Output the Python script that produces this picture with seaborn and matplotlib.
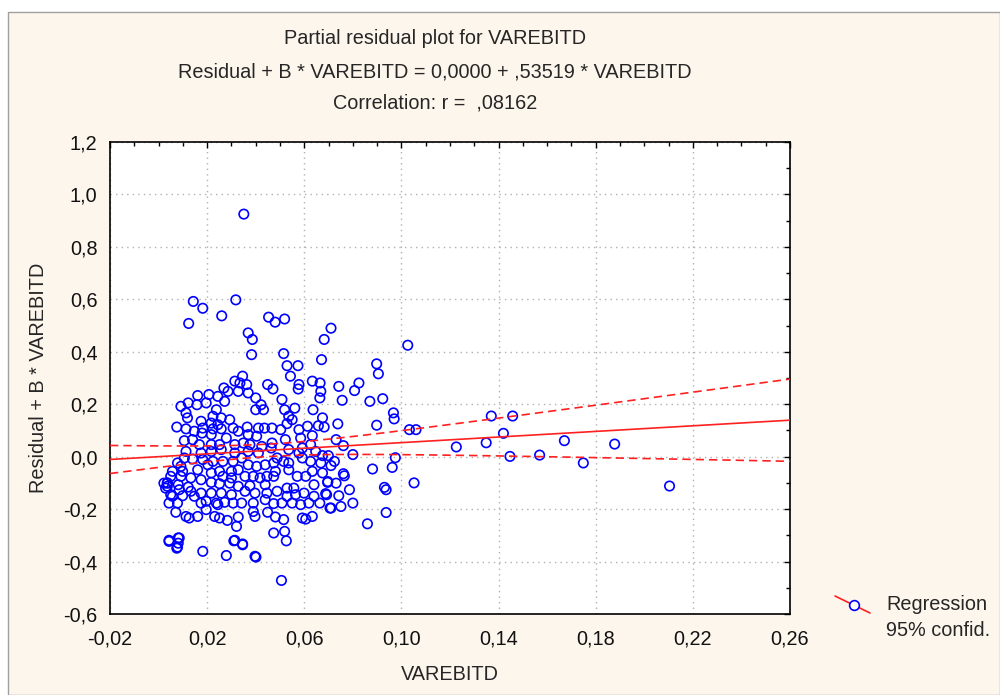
import numpy as np
import pandas as pd
import matplotlib.pyplot as plt
import matplotlib.ticker as mticker
import matplotlib.lines as mlines
import matplotlib.patches as mpatches
import seaborn as sns

# Values (VAREBITD, partial residual)
vare_cluster = [
    0.0369, 0.0386, 0.0682, 0.0710, 0.0383, 0.0515, 0.0529, 0.0574, 0.0671, 0.0346,
    0.0314, 0.0335, 0.0363, 0.0269, 0.0286, 0.0328, 0.0369, 0.0449, 0.0471, 0.0543,
    0.0578, 0.0575, 0.0633, 0.0665, 0.0668, 0.0742, 0.0807, 0.0825, 0.0161, 0.0207,
    0.0244, 0.0272, 0.0196, 0.0158, 0.0122, 0.0092, 0.0238, 0.0400, 0.0422, 0.0432,
    0.0400, 0.0508, 0.0519, 0.0561, 0.0664, 0.0756, 0.0636, 0.0113, 0.0119, 0.0224,
    0.0258, 0.0293, 0.0175, 0.0217, 0.0244, 0.0075, 0.0113, 0.0182, 0.0224, 0.0258,
    0.0307, 0.0365, 0.0436, 0.0467, 0.0503, 0.0536, 0.0550, 0.0529, 0.0675, 0.0658,
    0.0682, 0.0738, 0.0179, 0.0217, 0.0279, 0.0328, 0.0369, 0.0404, 0.0106, 0.0168,
    0.0217, 0.0251, 0.0314, 0.0349, 0.0376, 0.0425, 0.0464, 0.0522, 0.0585, 0.0633,
    0.0626, 0.0592, 0.0761, 0.0113, 0.0175, 0.0217, 0.0258, 0.0314, 0.0369, 0.0411,
    0.0488, 0.0536, 0.0578, 0.0647, 0.0675, 0.0699, 0.0800, 0.0057, 0.0092, 0.0099,
    0.0140, 0.0182, 0.0224, 0.0265, 0.0307, 0.0342, 0.0369, 0.0404, 0.0439, 0.0474,
    0.0536, 0.0592, 0.0626, 0.0668, 0.0710, 0.0036, 0.0036, 0.0081, 0.0122, 0.0133,
    0.0175, 0.0217, 0.0251, 0.0300, 0.0328, 0.0356, 0.0390, 0.0418, 0.0446, 0.0481,
    0.0536, 0.0606, 0.0633, 0.0675, 0.0761, 0.0765, 0.0640, 0.0696, 0.0328, 0.0376,
    0.0439, 0.0085, 0.0217, 0.0251, 0.0293, 0.0529, 0.0557, 0.0057, 0.0099, 0.0133,
    0.0175, 0.0217, 0.0258, 0.0300, 0.0356, 0.0397, 0.0446, 0.0488, 0.0529, 0.0564,
    0.0599, 0.0640, 0.0692, 0.0742, 0.0043, 0.0078, 0.0175, 0.0196, 0.0238, 0.0272,
    0.0307, 0.0342, 0.0390, 0.0439, 0.0474, 0.0508, 0.0550, 0.0585, 0.0619, 0.0664,
    0.0710, 0.0751, 0.0800, 0.0071, 0.0113, 0.0126, 0.0161, 0.0196, 0.0231, 0.0251,
    0.0283, 0.0328, 0.0390, 0.0449, 0.0481, 0.0515, 0.0592, 0.0633, 0.0321, 0.0606,
    0.0043, 0.0081, 0.0081, 0.0075, 0.0182, 0.0279, 0.0314, 0.0346, 0.0401, 0.0474,
    0.0519, 0.0526, 0.0506,
]
resid_cluster = [
    0.472, 0.447, 0.447, 0.490, 0.389, 0.393, 0.347, 0.347, 0.370, 0.307,
    0.288, 0.281, 0.275, 0.262, 0.249, 0.249, 0.243, 0.275, 0.258, 0.307,
    0.275, 0.258, 0.288, 0.281, 0.249, 0.268, 0.252, 0.281, 0.233, 0.237,
    0.230, 0.211, 0.205, 0.198, 0.205, 0.192, 0.179, 0.224, 0.198, 0.179,
    0.179, 0.218, 0.179, 0.185, 0.224, 0.215, 0.179, 0.167, 0.148, 0.154,
    0.148, 0.141, 0.135, 0.128, 0.122, 0.113, 0.106, 0.109, 0.106, 0.106,
    0.109, 0.113, 0.109, 0.109, 0.103, 0.154, 0.141, 0.126, 0.148, 0.118,
    0.113, 0.125, 0.090, 0.084, 0.071, 0.097, 0.084, 0.078, 0.061, 0.046,
    0.046, 0.046, 0.046, 0.052, 0.046, 0.039, 0.033, 0.065, 0.071, 0.080,
    0.046, 0.033, 0.042, 0.020, 0.014, 0.020, 0.027, 0.014, 0.020, 0.014,
    -0.005, 0.027, 0.014, 0.020, 0.004, 0.004, 0.008, -0.056, -0.037, -0.056,
    -0.009, -0.011, -0.018, -0.018, -0.018, -0.005, -0.031, -0.037, -0.031, -0.024,
    -0.024, -0.005, -0.018, -0.024, -0.034, -0.101, -0.113, -0.107, -0.116, -0.081,
    -0.088, -0.062, -0.056, -0.056, -0.050, -0.075, -0.075, -0.081, -0.075, -0.056,
    -0.050, -0.075, -0.056, -0.062, -0.065, -0.073, -0.107, -0.098, -0.113, -0.111,
    -0.107, -0.126, -0.098, -0.103, -0.101, -0.120, -0.120, -0.151, -0.149, -0.132,
    -0.139, -0.139, -0.139, -0.145, -0.132, -0.139, -0.139, -0.132, -0.151, -0.145,
    -0.139, -0.151, -0.145, -0.149, -0.177, -0.177, -0.177, -0.170, -0.177, -0.174,
    -0.177, -0.177, -0.177, -0.164, -0.179, -0.177, -0.177, -0.183, -0.177, -0.177,
    -0.196, -0.190, -0.177, -0.212, -0.228, -0.234, -0.228, -0.202, -0.228, -0.234,
    -0.243, -0.230, -0.209, -0.212, -0.230, -0.240, -0.234, -0.228, -0.266, -0.238,
    -0.319, -0.310, -0.330, -0.349, -0.361, -0.377, -0.319, -0.333, -0.383, -0.291,
    -0.285, -0.321, -0.472,
]
# extra points filling the dense core
vare_core = [
    0.0022, 0.0029, 0.0050, 0.0078, 0.0106, 0.0050, 0.0161, 0.0147, 0.0092, 0.0203,
    0.0265, 0.0300, 0.0474, 0.0571, 0.0515, 0.0467, 0.0411, 0.0147, 0.0140, 0.0578,
    0.0613, 0.0731, 0.0724, 0.0731, 0.0786, 0.0397, 0.0244, 0.0706, 0.0697, 0.0688,
    0.0036, 0.0043, 0.0085, 0.0078, 0.0310, 0.0346, 0.0397,
]
resid_core = [
    -0.101, -0.120, -0.145, -0.024, -0.005, -0.075, -0.050, -0.151, -0.075, -0.031,
    -0.075, -0.081, -0.075, -0.075, -0.018, 0.052, 0.109, 0.097, 0.065, 0.103,
    0.116, 0.065, -0.018, -0.101, -0.126, -0.228, -0.183, -0.196, -0.095, -0.141,
    -0.100, -0.323, -0.310, -0.345, -0.321, -0.336, -0.380,
]
# upper outliers
vare_high = [0.0351, 0.0143, 0.0182, 0.0318, 0.0260, 0.0124, 0.0453, 0.0480, 0.0519]
resid_high = [0.925, 0.592, 0.566, 0.598, 0.537, 0.508, 0.532, 0.513, 0.525]
# right-hand tail
vare_tail = [
    0.1026, 0.0898, 0.0905, 0.0923, 0.0967, 0.0970, 0.0898, 0.1033, 0.1060, 0.0975,
    0.0881, 0.0962, 0.0930, 0.0937, 0.1052, 0.0937, 0.0870, 0.1226, 0.1349, 0.1370,
    0.1458, 0.1420, 0.1447, 0.1569, 0.1671, 0.1749, 0.1878, 0.2104, 0.0860,
]
resid_tail = [
    0.425, 0.354, 0.316, 0.221, 0.167, 0.144, 0.120, 0.103, 0.103, -0.004,
    -0.047, -0.041, -0.117, -0.126, -0.100, -0.213, 0.211, 0.037, 0.053, 0.155,
    0.155, 0.089, 0.001, 0.006, 0.061, -0.024, 0.048, -0.112, -0.256,
]

# model stated in the chart heading
intercept = 0.0
slope = 0.53519

title_lines = [
    "Partial residual plot for VAREBITD",
    "Residual + B * VAREBITD = 0,0000 + ,53519 * VAREBITD",
    "Correlation: r =  ,08162",
]
x_label = "VAREBITD"
y_label = "Residual + B * VAREBITD"
legend_labels = ["Regression", "95% confid."]

df = pd.DataFrame({
    "VAREBITD": vare_cluster + vare_core + vare_high + vare_tail,
    "resid": resid_cluster + resid_core + resid_high + resid_tail,
})

# regression line and 95% confidence band around it
x = df["VAREBITD"].to_numpy()
y = df["resid"].to_numpy()
n = len(x)
s = np.sqrt(np.sum((y - (intercept + slope * x)) ** 2) / (n - 2))
sxx = np.sum((x - x.mean()) ** 2)
xg = np.linspace(-0.02, 0.26, 200)
yg = intercept + slope * xg
half = 1.968 * s * np.sqrt(1.0 / n + (xg - x.mean()) ** 2 / sxx)

bg = "#FDF6EC"
red = "#FF2020"
blue = "#0000FF"
FS = 14.3

sns.set_style("white")
plt.rcParams["font.family"] = ["Liberation Sans", "DejaVu Sans"]

f = plt.figure(figsize=(10, 6.95), dpi=100, facecolor="white")
f.add_artist(mpatches.Rectangle((0.008, 0.0), 0.992, 1 - 12 / 695, transform=f.transFigure,
                                facecolor=bg, edgecolor="#A0A0A0", linewidth=1.0, zorder=-10))

ax = f.add_axes([0.110, 1 - 614 / 695, 0.680, 472 / 695])
ax.set_facecolor("white")

sns.scatterplot(data=df, x="VAREBITD", y="resid", ax=ax, marker="o", s=46,
                facecolor="none", edgecolor=blue, linewidth=1.2, zorder=3)
sns.lineplot(x=xg, y=yg, ax=ax, color=red, lw=1.2, zorder=4)
ax.plot(xg, yg + half, color=red, lw=1.2, ls=(0, (5, 3)), zorder=4)
ax.plot(xg, yg - half, color=red, lw=1.2, ls=(0, (5, 3)), zorder=4)

ax.set_xlim(-0.02, 0.26)
ax.set_ylim(-0.6, 1.2)
ax.set_xticks(np.arange(-0.02, 0.2601, 0.04))
ax.set_xticks(np.arange(-0.02, 0.2601, 0.01), minor=True)
ax.set_yticks(np.arange(-0.6, 1.2001, 0.2))
ax.set_yticks(np.arange(-0.6, 1.2001, 0.1), minor=True)
ax.xaxis.set_major_formatter(mticker.FuncFormatter(lambda v, p: f"{v:.2f}".replace(".", ",")))
ax.yaxis.set_major_formatter(mticker.FuncFormatter(
    lambda v, p: ("0,0" if abs(v) < 1e-9 else f"{v:.1f}".replace(".", ","))))
ax.tick_params(which="both", direction="in", top=True, right=True, color="black", width=1.0)
ax.tick_params(which="major", length=4, labelsize=FS, labelcolor="#111111")
ax.tick_params(axis="x", which="major", pad=11)
ax.tick_params(axis="y", which="major", pad=9)
ax.tick_params(which="minor", length=3)
ax.grid(True, which="major", color="#B0B0B0", ls=(0, (1, 3)), lw=1.0)
for sp in ax.spines.values():
    sp.set_color("black")
    sp.set_linewidth(1.2)

ax.set_xlabel(x_label, fontsize=FS, labelpad=12)
ax.set_ylabel(y_label, fontsize=FS, labelpad=11)

for txt, py in zip(title_lines, [38, 72, 103]):
    f.text(0.435, 1 - py / 695, txt, ha="center", va="center", fontsize=FS)

# legend drawn in figure space
f.add_artist(mlines.Line2D([835 / 1000, 870 / 1000], [1 - 596 / 695, 1 - 613 / 695],
                           transform=f.transFigure, color=red, lw=1.2))
f.add_artist(mlines.Line2D([854 / 1000], [1 - 604.5 / 695], transform=f.transFigure,
                           marker="o", markersize=7, markerfacecolor="white",
                           markeredgecolor=blue, markeredgewidth=1.2, ls="none"))
for txt, py in zip(legend_labels, [605, 630]):
    f.text(886 / 1000, 1 - py / 695, txt, ha="left", va="center", fontsize=FS)

plt.savefig("out.png", dpi=100, facecolor=f.get_facecolor())
